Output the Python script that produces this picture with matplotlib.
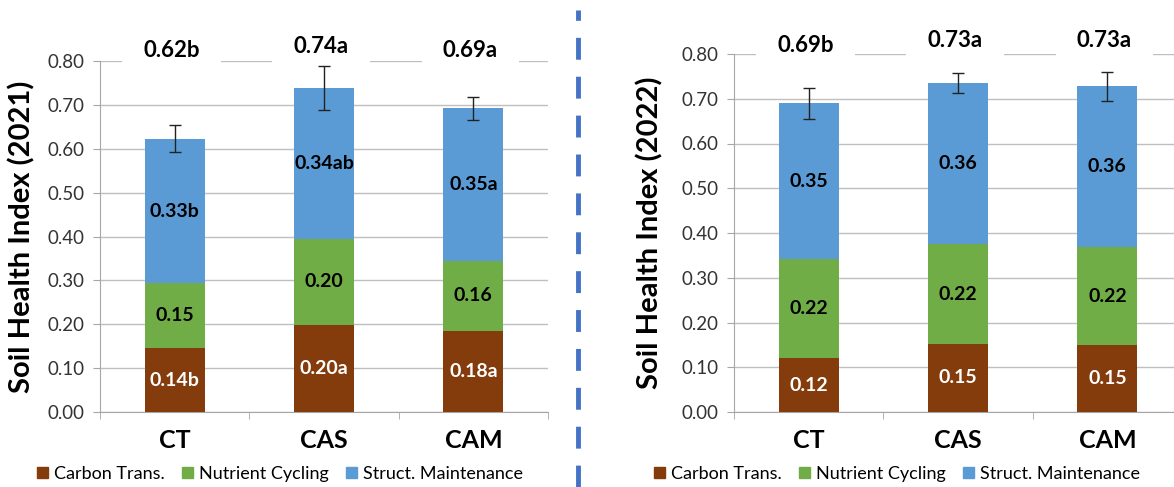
import matplotlib.pyplot as plt
from matplotlib.patches import Patch
from matplotlib.lines import Line2D

plt.rcParams['font.family'] = ['Lato', 'DejaVu Sans']

categories = ['CT', 'CAS', 'CAM']
series_names = ['Carbon Trans.', 'Nutrient Cycling', 'Struct. Maintenance']
colors = ['#843C0C', '#70AD47', '#5B9BD5']

# 2021
carbon_21 = [0.145, 0.198, 0.185]
nutrient_21 = [0.148, 0.197, 0.160]
struct_21 = [0.330, 0.343, 0.347]
err_21 = [0.030, 0.050, 0.027]
lab_carbon_21 = ['0.14b', '0.20a', '0.18a']
lab_nutrient_21 = ['0.15', '0.20', '0.16']
lab_struct_21 = ['0.33b', '0.34ab', '0.35a']
lab_total_21 = ['0.62b', '0.74a', '0.69a']

# 2022
carbon_22 = [0.120, 0.152, 0.150]
nutrient_22 = [0.222, 0.223, 0.218]
struct_22 = [0.348, 0.360, 0.360]
err_22 = [0.035, 0.023, 0.032]
lab_carbon_22 = ['0.12', '0.15', '0.15']
lab_nutrient_22 = ['0.22', '0.22', '0.22']
lab_struct_22 = ['0.35', '0.36', '0.36']
lab_total_22 = ['0.69b', '0.73a', '0.73a']

fig = plt.figure(figsize=(11.74, 4.87), dpi=100)
ax1 = fig.add_axes([100 / 1174, 75 / 487, 448 / 1174, 351 / 487])
ax2 = fig.add_axes([734 / 1174, 75 / 487, 448 / 1174, 358 / 487])


def draw(ax, carbon, nutrient, struct, err, labs, totals, ylab, top_offsets):
    x = list(range(len(categories)))
    bottom2 = [c + n for c, n in zip(carbon, nutrient)]
    total = [b + s for b, s in zip(bottom2, struct)]
    w = 0.4
    ax.bar(x, carbon, w, color=colors[0], zorder=3)
    ax.bar(x, nutrient, w, bottom=carbon, color=colors[1], zorder=3)
    ax.bar(x, struct, w, bottom=bottom2, color=colors[2], zorder=3)
    ax.errorbar(x, total, yerr=err, fmt='none', ecolor='#222222',
                elinewidth=1, capsize=4, capthick=1, zorder=4)
    for i in x:
        ax.text(i, carbon[i] / 2, labs[0][i], ha='center', va='center',
                color='white', fontsize=14, fontweight='bold', zorder=5)
        ax.text(i, carbon[i] + nutrient[i] / 2, labs[1][i], ha='center', va='center',
                color='black', fontsize=14, fontweight='bold', zorder=5)
        ax.text(i, bottom2[i] + struct[i] / 2, labs[2][i], ha='center', va='center',
                color='black', fontsize=14, fontweight='bold', zorder=5)
        ax.text(i - 0.02, 0.8 + top_offsets[i], totals[i], ha='center', va='center',
                fontsize=16, fontweight='bold', zorder=2, clip_on=False,
                bbox=dict(boxstyle='square,pad=0.95', fc='white', ec='none'))
    ax.set_xlim(-0.5, 2.5)
    ax.set_ylim(0, 0.8)
    ax.set_yticks([i / 10 for i in range(9)])
    ax.set_yticklabels([f'{i / 10:.2f}' for i in range(9)], fontsize=13.5, color='#333333')
    ax.set_xticks(x)
    ax.set_xticklabels(categories, fontsize=18, fontweight='bold')
    ax.set_xticks([-0.5, 0.5, 1.5, 2.5], minor=True)
    ax.tick_params(axis='x', which='major', length=0, pad=12)
    ax.tick_params(axis='x', which='minor', length=5, color='#A6A6A6', direction='out')
    ax.tick_params(axis='y', length=5, color='#A6A6A6', direction='out', pad=6)
    ax.grid(axis='y', color='#BFBFBF', linewidth=1, zorder=0)
    ax.set_axisbelow(True)
    for s in ['top', 'right']:
        ax.spines[s].set_visible(False)
    for s in ['left', 'bottom']:
        ax.spines[s].set_color('#A6A6A6')
    ax.set_ylabel(ylab, fontsize=21, fontweight='bold')


draw(ax1, carbon_21, nutrient_21, struct_21, err_21,
     [lab_carbon_21, lab_nutrient_21, lab_struct_21], lab_total_21,
     'Soil Health Index (2021)', [0.025, 0.032, 0.025])
draw(ax2, carbon_22, nutrient_22, struct_22, err_22,
     [lab_carbon_22, lab_nutrient_22, lab_struct_22], lab_total_22,
     'Soil Health Index (2022)', [0.02, 0.03, 0.03])
ax1.yaxis.set_label_coords(-0.145, 0.5)
ax2.yaxis.set_label_coords(-0.158, 0.5)

handles = [Patch(color=c, label=n) for c, n in zip(colors, series_names)]
for cx in [280 / 1174, 897 / 1174]:
    fig.legend(handles=handles, loc='center', bbox_to_anchor=(cx, 1 - 474 / 487),
               ncol=3, frameon=False, fontsize=13, handlelength=0.6, handleheight=0.6,
               handletextpad=0.3, columnspacing=1.0)

fig.add_artist(Line2D([578 / 1174, 578 / 1174], [0, 1 - 10 / 487], color='#4472C4',
                      linewidth=3.5, linestyle=(0, (4.5, 3.5)), transform=fig.transFigure))

fig.savefig('out.png', dpi=100)
